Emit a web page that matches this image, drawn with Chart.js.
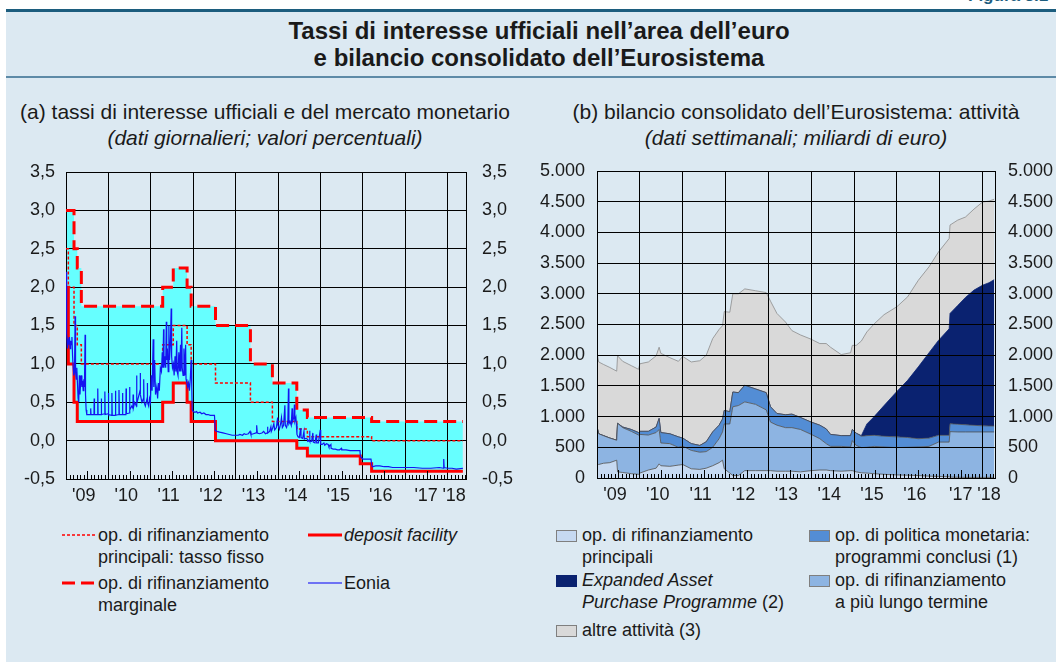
<!DOCTYPE html>
<html lang="it">
<head>
<meta charset="utf-8">
<title>Tassi di interesse ufficiali e bilancio dell'Eurosistema</title>
<script src="https://cdn.jsdelivr.net/npm/chart.js@4/dist/chart.umd.min.js"></script>
<style>
  html, body { margin: 0; padding: 0; }
  body {
    width: 1056px; height: 662px; position: relative; overflow: hidden;
    background: #fff; color: #1a1a1a;
    font-family: "Liberation Sans", Arial, Helvetica, sans-serif;
  }
  .panel { position: absolute; left: 6px; top: 11px; right: 0; bottom: 0; background: #dce9f2; }
  .rule { position: absolute; left: 6px; right: 0; }
  .rule.top { top: 9px; height: 3px; background: #1c5d7e; }
  .rule.mid { top: 76px; height: 2px; background: #5d8aa7; }
  .figno { position: absolute; left: 968px; top: -14px; font-size: 17px; font-weight: bold; color: #1c5d7e; white-space: nowrap; }
  .title { position: absolute; left: 22px; right: 0; top: 17px; text-align: center; font-size: 24px; font-weight: bold; line-height: 27px; }
  .sub { position: absolute; top: 99px; width: 520px; text-align: center; font-size: 21px; line-height: 26px; }
  .chart { position: absolute; top: 150px; height: 362px; }
  .chart canvas { display: block; }
  .item { position: absolute; white-space: nowrap; font-size: 18px; line-height: 22px; }
  .item svg, .item span { display: inline-block; vertical-align: top; }
  .sw { width: 19px; height: 10px; margin: 6px 5px 0 0; border: 1px solid #7f7f7f; }
</style>
</head>
<body>
<div class="panel"></div>
<div class="figno">Figura 3.1</div>
<div class="rule top"></div>
<div class="rule mid"></div>
<div class="title">Tassi di interesse ufficiali nell’area dell’euro<br>e bilancio consolidato dell’Eurosistema</div>

<div class="sub" style="left:5px">(a) tassi di interesse ufficiali e del mercato monetario<br><i>(dati giornalieri; valori percentuali)</i></div>
<div class="sub" style="left:536px">(b) bilancio consolidato dell’Eurosistema: attività<br><i>(dati settimanali; miliardi di euro)</i></div>

<div class="chart" style="left:0;width:530px"><canvas id="rates" width="530" height="362"></canvas></div>
<div class="chart" style="left:530px;width:526px"><canvas id="balance" width="526" height="362"></canvas></div>

<div id="legendA"></div>
<div id="legendB"></div>

<script>
// ---- panel (a): official rates, change dates and levels ----
const mroDates = ['2009-01-01', '2009-01-21', '2009-03-11', '2009-04-08', '2009-05-13', '2011-04-13', '2011-07-13',
    '2011-11-09', '2011-12-14', '2012-07-11', '2013-05-08', '2013-11-13', '2014-06-11', '2014-09-10', '2016-03-16'];
const mroRates = [2.50, 2.00, 1.50, 1.25, 1.00, 1.25, 1.50, 1.25, 1.00, 0.75, 0.50, 0.25, 0.15, 0.05, 0.00];

const marginalDates = ['2009-01-01', '2009-03-11', '2009-04-08', '2009-05-13', '2011-04-13', '2011-07-13', '2011-11-09',
    '2011-12-14', '2012-07-11', '2013-05-08', '2013-11-13', '2014-06-11', '2014-09-10', '2016-03-16'];
const marginalRates = [3.00, 2.50, 2.25, 1.75, 2.00, 2.25, 2.00, 1.75, 1.50, 1.00, 0.75, 0.40, 0.30, 0.25];

const depositDates = ['2009-01-01', '2009-01-21', '2009-03-11', '2009-04-08', '2011-04-13', '2011-07-13', '2011-11-09',
    '2011-12-14', '2012-07-11', '2014-06-11', '2014-09-10', '2015-12-09', '2016-03-16'];
const depositRates = [2.00, 1.00, 0.50, 0.25, 0.50, 0.75, 0.50, 0.25, 0.00, -0.10, -0.20, -0.30, -0.40];

const ratesEnd = '2018-05-11';

// Eonia, [decimal year, %]
const eonia = [
    [2009.00, 2.20], [2009.01, 1.85], [2009.02, 1.40], [2009.035, 1.20], [2009.05, 1.30], [2009.065, 1.25],
    [2009.08, 1.35], [2009.095, 1.20], [2009.11, 1.30], [2009.125, 1.25], [2009.14, 1.35], [2009.155, 1.10],
    [2009.17, 0.95], [2009.185, 0.85], [2009.20, 0.90], [2009.215, 1.62], [2009.225, 0.90], [2009.24, 0.80],
    [2009.255, 0.95], [2009.27, 0.75], [2009.285, 0.55], [2009.30, 0.50], [2009.315, 0.85], [2009.33, 0.60],
    [2009.345, 0.75], [2009.36, 0.85], [2009.375, 0.70], [2009.39, 0.78], [2009.405, 0.65], [2009.42, 0.80],
    [2009.435, 0.70], [2009.45, 1.38], [2009.46, 0.60], [2009.475, 0.40], [2009.49, 0.34],
    [2009.55, 0.34], [2009.578, 0.34], [2009.582, 0.42], [2009.59, 0.34],
    [2009.66, 0.34], [2009.664, 0.55], [2009.672, 0.34],
    [2009.745, 0.34], [2009.749, 0.68], [2009.757, 0.34],
    [2009.828, 0.34], [2009.832, 0.55], [2009.84, 0.34],
    [2009.912, 0.35], [2009.916, 0.64], [2009.924, 0.34],
    [2009.995, 0.35], [2009.999, 0.62], [2010.007, 0.34],
    [2010.078, 0.33], [2010.082, 0.62], [2010.09, 0.33],
    [2010.162, 0.33], [2010.166, 0.65], [2010.174, 0.33],
    [2010.245, 0.34], [2010.249, 0.66], [2010.257, 0.34],
    [2010.328, 0.34], [2010.332, 0.62], [2010.34, 0.34],
    [2010.412, 0.34], [2010.416, 0.68], [2010.424, 0.35],
    [2010.495, 0.36], [2010.499, 0.70], [2010.507, 0.40],
    [2010.55, 0.45], [2010.578, 0.42], [2010.582, 0.60], [2010.59, 0.43],
    [2010.62, 0.50], [2010.66, 0.45], [2010.664, 0.85], [2010.672, 0.48],
    [2010.70, 0.55], [2010.745, 0.65], [2010.749, 0.88], [2010.757, 0.60],
    [2010.79, 0.50], [2010.828, 0.55], [2010.832, 0.80], [2010.84, 0.50],
    [2010.87, 0.45], [2010.912, 0.55], [2010.916, 0.75], [2010.924, 0.50],
    [2010.95, 0.45], [2010.97, 0.55], [2010.99, 0.50],
    [2011.01, 0.85], [2011.03, 0.65], [2011.055, 1.32], [2011.07, 0.70], [2011.09, 1.05], [2011.11, 0.60],
    [2011.14, 0.70], [2011.16, 0.55], [2011.18, 0.75], [2011.20, 0.65], [2011.225, 0.95], [2011.25, 0.90],
    [2011.27, 1.15], [2011.285, 0.95], [2011.30, 1.45], [2011.31, 0.95], [2011.33, 1.10], [2011.35, 0.95],
    [2011.365, 1.55], [2011.375, 1.05], [2011.39, 1.20], [2011.41, 0.90], [2011.425, 1.50], [2011.44, 1.05],
    [2011.46, 1.25], [2011.48, 1.72], [2011.49, 1.10], [2011.51, 0.95], [2011.53, 1.00], [2011.55, 0.85],
    [2011.57, 1.10], [2011.59, 0.90], [2011.61, 1.30], [2011.62, 0.90], [2011.64, 0.85], [2011.66, 1.15],
    [2011.68, 0.90], [2011.70, 1.25], [2011.71, 0.90], [2011.73, 1.47], [2011.74, 0.95], [2011.76, 0.85],
    [2011.78, 1.20], [2011.80, 0.85], [2011.82, 1.25], [2011.83, 0.80], [2011.85, 0.75], [2011.87, 0.70],
    [2011.89, 0.75], [2011.91, 0.65], [2011.93, 0.80], [2011.95, 1.05], [2011.965, 0.70], [2011.975, 0.40],
    [2012.00, 0.38], [2012.04, 0.37], [2012.08, 0.38], [2012.10, 0.36], [2012.16, 0.37], [2012.20, 0.35],
    [2012.25, 0.36], [2012.30, 0.34], [2012.35, 0.34], [2012.40, 0.33], [2012.45, 0.33], [2012.50, 0.33],
    [2012.52, 0.13], [2012.56, 0.12], [2012.62, 0.11], [2012.70, 0.10], [2012.78, 0.09], [2012.85, 0.08],
    [2012.92, 0.07], [2013.00, 0.07], [2013.06, 0.07], [2013.10, 0.08], [2013.16, 0.07], [2013.20, 0.09],
    [2013.24, 0.08], [2013.30, 0.09], [2013.34, 0.12], [2013.36, 0.08], [2013.42, 0.09], [2013.48, 0.10],
    [2013.495, 0.20], [2013.51, 0.10], [2013.56, 0.09], [2013.62, 0.10], [2013.66, 0.12], [2013.70, 0.09],
    [2013.745, 0.10], [2013.75, 0.18], [2013.76, 0.10], [2013.80, 0.12], [2013.83, 0.18], [2013.84, 0.12],
    [2013.87, 0.16], [2013.90, 0.22], [2013.92, 0.14], [2013.96, 0.17], [2013.99, 0.30],
    [2014.00, 0.20], [2014.03, 0.15], [2014.06, 0.22], [2014.08, 0.30], [2014.10, 0.17], [2014.13, 0.20],
    [2014.16, 0.46], [2014.17, 0.20], [2014.20, 0.17], [2014.23, 0.25], [2014.245, 0.68], [2014.255, 0.22],
    [2014.28, 0.25], [2014.31, 0.20], [2014.33, 0.42], [2014.34, 0.25], [2014.37, 0.30], [2014.385, 0.47],
    [2014.395, 0.25], [2014.42, 0.30], [2014.43, 0.22], [2014.445, 0.08], [2014.47, 0.05], [2014.50, 0.04],
    [2014.53, 0.16], [2014.54, 0.04], [2014.58, 0.03], [2014.61, 0.12], [2014.62, 0.02], [2014.66, 0.03],
    [2014.69, 0.02], [2014.70, -0.01], [2014.74, 0.00], [2014.745, 0.13], [2014.75, -0.01], [2014.79, -0.01],
    [2014.82, 0.10], [2014.83, -0.02], [2014.87, -0.03], [2014.90, 0.08], [2014.91, -0.03], [2014.95, -0.03],
    [2014.995, 0.14], [2015.005, -0.05], [2015.04, -0.05], [2015.08, -0.03], [2015.10, -0.06], [2015.14, -0.04],
    [2015.18, -0.05], [2015.20, -0.08], [2015.245, -0.05], [2015.25, -0.10], [2015.30, -0.11], [2015.35, -0.11],
    [2015.40, -0.12], [2015.45, -0.12], [2015.495, -0.10], [2015.50, -0.12], [2015.60, -0.12], [2015.70, -0.13],
    [2015.80, -0.13], [2015.93, -0.13], [2015.94, -0.20], [2015.96, -0.22], [2016.00, -0.24], [2016.10, -0.24],
    [2016.19, -0.24], [2016.205, -0.30], [2016.22, -0.34], [2016.30, -0.33], [2016.40, -0.33], [2016.50, -0.34],
    [2016.60, -0.34], [2016.70, -0.35], [2016.80, -0.35], [2016.90, -0.35], [2017.00, -0.35], [2017.20, -0.35],
    [2017.40, -0.36], [2017.60, -0.36], [2017.80, -0.35], [2017.90, -0.36], [2017.905, -0.24], [2017.915, -0.35],
    [2018.00, -0.36], [2018.10, -0.36], [2018.20, -0.37], [2018.36, -0.36]
];

// ---- panel (b): Eurosystem assets, billions of euro ----
const bsDates = [
    2009.00, 2009.04, 2009.15, 2009.30, 2009.46, 2009.48, 2009.60, 2009.80, 2009.97,
    2010.00, 2010.20, 2010.38, 2010.45, 2010.49, 2010.70, 2010.90,
    2011.00, 2011.20, 2011.40, 2011.55, 2011.70, 2011.85, 2011.93, 2011.97,
    2012.10, 2012.17, 2012.30, 2012.45, 2012.70, 2012.95,
    2013.05, 2013.20, 2013.40, 2013.55, 2013.75,
    2014.00, 2014.20, 2014.35, 2014.45, 2014.70, 2014.92, 2014.96,
    2015.05, 2015.17, 2015.30, 2015.47, 2015.70,
    2016.00, 2016.25, 2016.50, 2016.75, 2016.97,
    2017.22, 2017.24, 2017.42, 2017.60, 2017.80,
    2018.00, 2018.15, 2018.27
];
const mainRefi = [
    230, 220, 240, 250, 290, 100, 90, 70, 60,
    80, 130, 160, 230, 200, 190, 210,
    220, 150, 140, 160, 200, 250, 290, 150,
    80, 40, 40, 120, 120, 120,
    120, 110, 110, 110, 100,
    120, 130, 130, 120, 110, 120, 120,
    100, 85, 80, 70, 60,
    50, 45, 40, 30, 25,
    20, 15, 12, 10, 10,
    10, 10, 10
];
const longerRefi = [
    600, 500, 450, 400, 325, 790, 730, 690, 640,
    630, 570, 580, 560, 370, 370, 290,
    300, 300, 280, 270, 300, 390, 460, 730,
    800, 1120, 1140, 1120, 1080, 990,
    790, 750, 710, 710, 690,
    590, 510, 430, 395, 405, 385, 490,
    430, 410, 420, 445, 445,
    445, 455, 465, 485, 560,
    565, 740, 738, 740, 740,
    740, 740, 740
];
const endedProgrammes = [
    0, 0, 0, 0, 0, 0, 10, 30, 40,
    50, 60, 90, 180, 170, 160, 170,
    130, 110, 110, 160, 250, 220, 210, 220,
    200, 240, 210, 270, 250, 280,
    250, 190, 210, 220, 195,
    200, 220, 240, 195, 175, 185, 180,
    200, 185, 190, 180, 175,
    175, 160, 135, 135, 110,
    110, 130, 125, 118, 108,
    100, 98, 97
];
const app = [
    0, 0, 0, 0, 0, 0, 0, 0, 0,
    0, 0, 0, 0, 0, 0, 0,
    0, 0, 0, 0, 0, 0, 0, 0,
    0, 0, 0, 0, 0, 0,
    0, 0, 0, 0, 0,
    0, 0, 0, 0, 0, 0, 0,
    0, 10, 190, 305, 500,
    740, 930, 1170, 1390, 1545,
    1735, 1795, 1935, 2072, 2202,
    2290, 2332, 2383
];
const otherAssets = [
    1210, 1170, 1160, 1150, 1125, 1100, 1070, 1040, 1030,
    1100, 1130, 1160, 1160, 1290, 1240, 1230,
    1330, 1330, 1380, 1410, 1520, 1560, 1520, 1610,
    1620, 1600, 1610, 1570, 1600, 1630,
    1720, 1630, 1510, 1360, 1345,
    1350, 1330, 1390, 1420, 1320, 1350, 1370,
    1430, 1540, 1500, 1510, 1480,
    1380, 1360, 1410, 1400, 1440,
    1470, 1440, 1390, 1310, 1320,
    1355, 1330, 1310
];

const years = [2009, 2010, 2011, 2012, 2013, 2014, 2015, 2016, 2017, 2018];
const yearLabels = ["'09", "'10", "'11", "'12", "'13", "'14", "'15", "'16", "'17", "'18"];

// ---- helpers ----
const FONT = '"Liberation Sans", Arial, Helvetica, sans-serif';
const INK = '#1a1a1a';
Chart.defaults.font.family = FONT;
Chart.defaults.color = INK;

function toYear(s) {
    const d = new Date(s + 'T00:00:00Z');
    const y = d.getUTCFullYear();
    const a = Date.UTC(y, 0, 1), b = Date.UTC(y + 1, 0, 1);
    return y + (d.getTime() - a) / (b - a);
}

function steps(dates, values) {
    const pts = dates.map((d, i) => ({ x: toYear(d), y: values[i] }));
    pts.push({ x: toYear(ratesEnd), y: values[values.length - 1] });
    return pts;
}

// year labels sit inside each year, the last two squeezed
function labelShift(i) {
    if (i === 8) return 0.49;
    if (i === 9) return 0.15;
    return 0.42;
}

function yearAxis(max, height, gridOnTop) {
    return {
        type: 'linear',
        min: 2009,
        max: max,
        afterBuildTicks: s => {
            const t = years.map(v => ({ value: v }));
            yearLabels.forEach((l, i) => t.push({ value: years[i] + labelShift(i), txt: l }));
            s.ticks = t.sort((a, b) => a.value - b.value);
        },
        afterFit: s => { s.height = height; s.paddingLeft = 0; s.paddingRight = 0; },
        grid: {
            color: c => (c.tick && c.tick.txt) ? 'rgba(0,0,0,0)' : '#000',
            lineWidth: 1,
            drawTicks: false,
            z: gridOnTop ? 1 : 0
        },
        border: { color: '#000', width: 1, z: gridOnTop ? 1 : 0 },
        ticks: {
            autoSkip: false,
            maxRotation: 0,
            padding: 6,
            color: INK,
            font: { size: 18 },
            callback: (v, i, t) => t[i].txt || ''
        }
    };
}

function valueAxes(min, max, step, fmt, leftW, rightW, padL, padR, gridOnTop) {
    const ticks = { stepSize: step, color: INK, font: { size: 18 }, callback: fmt };
    const fixWidth = w => s => { s.width = w; s.paddingTop = 0; s.paddingBottom = 0; };
    return {
        y: {
            min, max, position: 'left',
            afterFit: fixWidth(leftW),
            grid: { color: '#000', lineWidth: 1, drawTicks: false, z: gridOnTop ? 1 : 0 },
            border: { color: '#000', width: 1, z: gridOnTop ? 1 : 0 },
            ticks: Object.assign({ padding: padL }, ticks),
            stacked: gridOnTop
        },
        yR: {
            min, max, position: 'right',
            afterFit: fixWidth(rightW),
            grid: { drawOnChartArea: false, drawTicks: false },
            border: { color: '#000', width: 1, z: 1 },
            ticks: Object.assign({ padding: padR }, ticks)
        }
    };
}

// small monthly ticks inside the bottom of the plot, longer at mid-year
const monthTicks = {
    id: 'monthTicks',
    afterDraw(chart) {
        const { ctx, chartArea, scales } = chart;
        const x = scales.x;
        ctx.save();
        ctx.strokeStyle = '#000';
        ctx.lineWidth = 1;
        ctx.beginPath();
        for (let m = 1; 2009 + m / 12 < x.max; m++) {
            if (m % 12 === 0) continue;
            const px = Math.round(x.getPixelForValue(2009 + m / 12)) + 0.5;
            const len = m % 12 === 6 ? 8 : 4;
            ctx.moveTo(px, chartArea.bottom);
            ctx.lineTo(px, chartArea.bottom - len);
        }
        ctx.stroke();
        ctx.restore();
    }
};

// grid painted again over the cyan corridor, under the lines
const gridOverFill = {
    id: 'gridOverFill',
    beforeDatasetsDraw(chart) {
        chart.scales.x.drawGrid(chart.chartArea);
        chart.scales.y.drawGrid(chart.chartArea);
    }
};

const itNum = v => String(v).replace(/\B(?=(\d{3})+(?!\d))/g, '.');

// ---- chart (a) ----
const RED = '#ff0000';
new Chart(document.getElementById('rates'), {
    type: 'line',
    data: {
        datasets: [
            {
                label: 'Eonia',
                data: eonia.map(p => ({ x: p[0], y: p[1] })),
                borderColor: '#1414f0', borderWidth: 1.2, pointRadius: 0, fill: false
            },
            {
                label: 'op. di rifinanziamento principali: tasso fisso',
                data: steps(mroDates, mroRates), stepped: true,
                borderColor: RED, borderWidth: 1.5, borderDash: [3, 2], pointRadius: 0, fill: false
            },
            {
                label: 'deposit facility',
                data: steps(depositDates, depositRates), stepped: true,
                borderColor: RED, borderWidth: 3, pointRadius: 0, fill: false
            },
            {
                label: 'op. di rifinanziamento marginale',
                data: steps(marginalDates, marginalRates), stepped: true,
                borderColor: RED, borderWidth: 3, borderDash: [13, 6], pointRadius: 0,
                fill: { target: 2, above: '#66ffff', below: '#66ffff' }
            }
        ]
    },
    options: {
        responsive: false,
        animation: false,
        events: [],
        layout: { padding: { top: 22, left: 0, right: 0, bottom: 0 } },
        plugins: { legend: { display: false }, tooltip: { enabled: false }, filler: { drawTime: 'beforeDatasetsDraw' } },
        scales: Object.assign(
            { x: yearAxis(2018.43, 33, false) },
            valueAxes(-0.5, 3.5, 0.5, v => v.toFixed(1).replace('.', ','), 66, 64, 11, 16, false)
        )
    },
    plugins: [gridOverFill, monthTicks]
});

// ---- chart (b) ----
const layers = [
    { label: 'op. di rifinanziamento principali', data: mainRefi, color: '#c6d9f1', line: '#4d4d4d' },
    { label: 'op. di rifinanziamento a più lungo termine', data: longerRefi, color: '#8db4e2', line: '#4d4d4d' },
    { label: 'op. di politica monetaria: programmi conclusi (1)', data: endedProgrammes, color: '#538dd5', line: '#4d4d4d' },
    { label: 'Expanded Asset Purchase Programme (2)', data: app, color: '#0a2270', line: '#0a2270' },
    { label: 'altre attività (3)', data: otherAssets, color: '#d9d9d9', line: '#8c8c8c' }
];

new Chart(document.getElementById('balance'), {
    type: 'line',
    data: {
        datasets: layers.map((l, i) => ({
            label: l.label,
            data: l.data.map((v, k) => ({ x: bsDates[k], y: v })),
            backgroundColor: l.color,
            borderColor: l.line,
            borderWidth: 0.8,
            pointRadius: 0,
            fill: i === 0 ? 'origin' : '-1'
        }))
    },
    options: {
        responsive: false,
        animation: false,
        events: [],
        layout: { padding: { top: 21, left: 0, right: 0, bottom: 0 } },
        plugins: { legend: { display: false }, tooltip: { enabled: false } },
        scales: Object.assign(
            { x: yearAxis(2018.29, 34, true) },
            valueAxes(0, 5000, 500, itNum, 67, 61, 12, 13, true)
        )
    },
    plugins: [monthTicks]
});

// ---- legends ----
const lineKeys = [
    { left: 62, top: 524, text: 'op. di rifinanziamento<br>principali: tasso fisso', w: 1.5, dash: '3 2', color: RED },
    { left: 308, top: 524, text: '<i>deposit facility</i>', w: 3, dash: '', color: RED },
    { left: 62, top: 572, text: 'op. di rifinanziamento<br>marginale', w: 3, dash: '13 6', color: RED },
    { left: 308, top: 572, text: 'Eonia', w: 1.5, dash: '', color: '#4a4af5' }
];
document.getElementById('legendA').innerHTML = lineKeys.map(k =>
    `<div class="item" style="left:${k.left}px;top:${k.top}px">` +
    `<svg width="36" height="22"><line x1="0" y1="11" x2="34" y2="11" stroke="${k.color}" stroke-width="${k.w}"` +
    (k.dash ? ` stroke-dasharray="${k.dash}"` : '') + `/></svg><span>${k.text}</span></div>`
).join('');

const areaKeys = [
    { left: 556, top: 524, idx: 0, text: 'op. di rifinanziamento<br>principali' },
    { left: 556, top: 569, idx: 3, text: '<i>Expanded Asset<br>Purchase Programme</i> (2)' },
    { left: 556, top: 619, idx: 4, text: 'altre attività (3)' },
    { left: 809, top: 524, idx: 2, text: 'op. di politica monetaria:<br>programmi conclusi (1)' },
    { left: 809, top: 569, idx: 1, text: 'op. di rifinanziamento<br>a più lungo termine' }
];
document.getElementById('legendB').innerHTML = areaKeys.map(k => {
    const c = layers[k.idx].color;
    const edge = k.idx === 3 ? c : '#7f7f7f';
    return `<div class="item" style="left:${k.left}px;top:${k.top}px">` +
        `<span class="sw" style="background:${c};border-color:${edge}"></span><span>${k.text}</span></div>`;
}).join('');
</script>
</body>
</html>
